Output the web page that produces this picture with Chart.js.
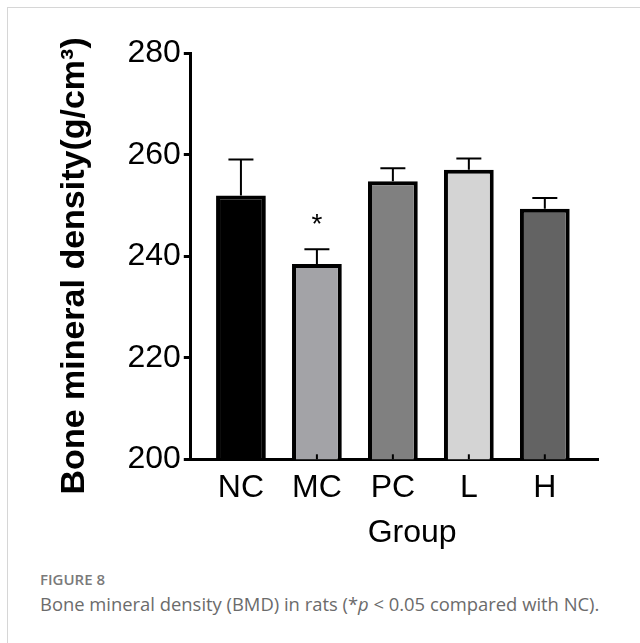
<!DOCTYPE html>
<html lang="en">
<head>
    <meta charset="UTF-8">
    <title>Bone mineral density</title>
    <script src="https://cdn.jsdelivr.net/npm/chart.js"></script>
    <style>
        html, body { margin: 0; background: #fff; overflow: hidden; }
        #frame {
            position: absolute; left: 7px; top: 7px; width: 632px; height: 635px;
            border-top: 1px solid #d6d6d6; border-left: 1px solid #d6d6d6;
        }
        #myChart { position: absolute; left: 0; top: 0; }
        .cap { position: absolute; left: 40px; font-family: 'Open Sans', sans-serif; line-height: 1; white-space: nowrap; }
        #figno { top: 572px; font-size: 15px; font-weight: 600; color: #7a7a7a; }
        #figtext { top: 595px; font-size: 18.4px; color: #6b6b6b; }
    </style>
</head>
<body>
    <div id="frame"></div>
    <canvas id="myChart" width="640" height="560"></canvas>
    <div class="cap" id="figno">FIGURE 8</div>
    <div class="cap" id="figtext">Bone mineral density (BMD) in rats (*<i>p</i> &lt; 0.05 compared with NC).</div>
    <script>
        // values
        const groups = ['NC', 'MC', 'PC', 'L', 'H'];
        const bmd = [252.0, 238.5, 254.8, 257.1, 249.4];
        const sem = [7.1, 2.9, 2.6, 2.2, 2.1];
        const marks = ['', '*', '', '', ''];
        const yTicks = [200, 220, 240, 260, 280];

        const barColors = ['#000000', '#a3a3a7', '#808080', '#d4d4d4', '#636363'];
        const FONT = "'Liberation Sans', Arial, sans-serif";

        // error bars, inner x ticks and the significance star
        const extras = {
            id: 'extras',
            afterDatasetsDraw(chart) {
                const ctx = chart.ctx;
                const x = chart.scales.x, y = chart.scales.y;
                ctx.save();
                ctx.strokeStyle = '#000';
                groups.forEach((g, i) => {
                    const px = x.getPixelForValue(i);
                    const top = y.getPixelForValue(bmd[i] + sem[i]);
                    const base = y.getPixelForValue(bmd[i]);
                    ctx.lineWidth = 2;
                    ctx.beginPath();
                    ctx.moveTo(px, base);
                    ctx.lineTo(px, top);
                    ctx.moveTo(px - 12.5, top);
                    ctx.lineTo(px + 12.5, top);
                    ctx.stroke();

                    // little tick pointing up from the x axis
                    ctx.lineWidth = 2;
                    ctx.beginPath();
                    ctx.moveTo(px, y.bottom);
                    ctx.lineTo(px, y.bottom - 5);
                    ctx.stroke();

                    if (marks[i]) {
                        ctx.fillStyle = '#000';
                        ctx.font = '28px ' + FONT;
                        ctx.textAlign = 'center';
                        ctx.textBaseline = 'alphabetic';
                        ctx.fillText(marks[i], px, top - 16);
                    }
                });
                ctx.restore();
            }
        };

        const ctx = document.getElementById('myChart').getContext('2d');
        const myChart = new Chart(ctx, {
            type: 'bar',
            data: {
                datasets: [{
                    label: 'BMD',
                    data: bmd.map((v, i) => ({ x: i, y: v })),
                    backgroundColor: barColors,
                    borderColor: '#000',
                    borderWidth: 4,
                    borderSkipped: 'start',
                    categoryPercentage: 1,
                    barPercentage: 0.655
                }]
            },
            options: {
                responsive: false,
                animation: false,
                layout: { padding: { top: 53.5, right: 42, left: 50.6, bottom: 0 } },
                plugins: {
                    legend: { display: false },
                    tooltip: { enabled: false }
                },
                scales: {
                    x: {
                        type: 'linear',
                        min: -0.66,
                        max: 4.7,
                        offset: false,
                        grid: { display: false, drawTicks: false },
                        border: { display: true, color: '#000', width: 3 },
                        ticks: {
                            stepSize: 1,
                            includeBounds: false,
                            padding: 12.7,
                            color: '#000',
                            font: { family: FONT, size: 32, lineHeight: 1 },
                            callback: v => groups[v] ?? ''
                        },
                        title: {
                            display: true,
                            text: '    Group',
                            color: '#000',
                            font: { family: FONT, size: 32, lineHeight: 1 },
                            padding: { top: 0, bottom: 11.3 }
                        }
                    },
                    y: {
                        min: yTicks[0],
                        max: yTicks[yTicks.length - 1],
                        grid: {
                            drawOnChartArea: false,
                            drawTicks: true,
                            tickLength: 7,
                            color: '#000',
                            lineWidth: 3
                        },
                        border: { display: true, color: '#000', width: 3 },
                        afterBuildTicks: axis => { axis.ticks = yTicks.map(v => ({ value: v })); },
                        ticks: {
                            padding: 3,
                            color: '#000',
                            font: { family: FONT, size: 32 }
                        },
                        title: {
                            display: true,
                            text: 'Bone mineral density(g/cm\u00B3)  ',
                            color: '#000',
                            font: { family: FONT, size: 34, weight: 'bold' },
                            padding: { top: 4, bottom: 29 }
                        }
                    }
                }
            },
            plugins: [extras]
        });
    </script>
</body>
</html>
